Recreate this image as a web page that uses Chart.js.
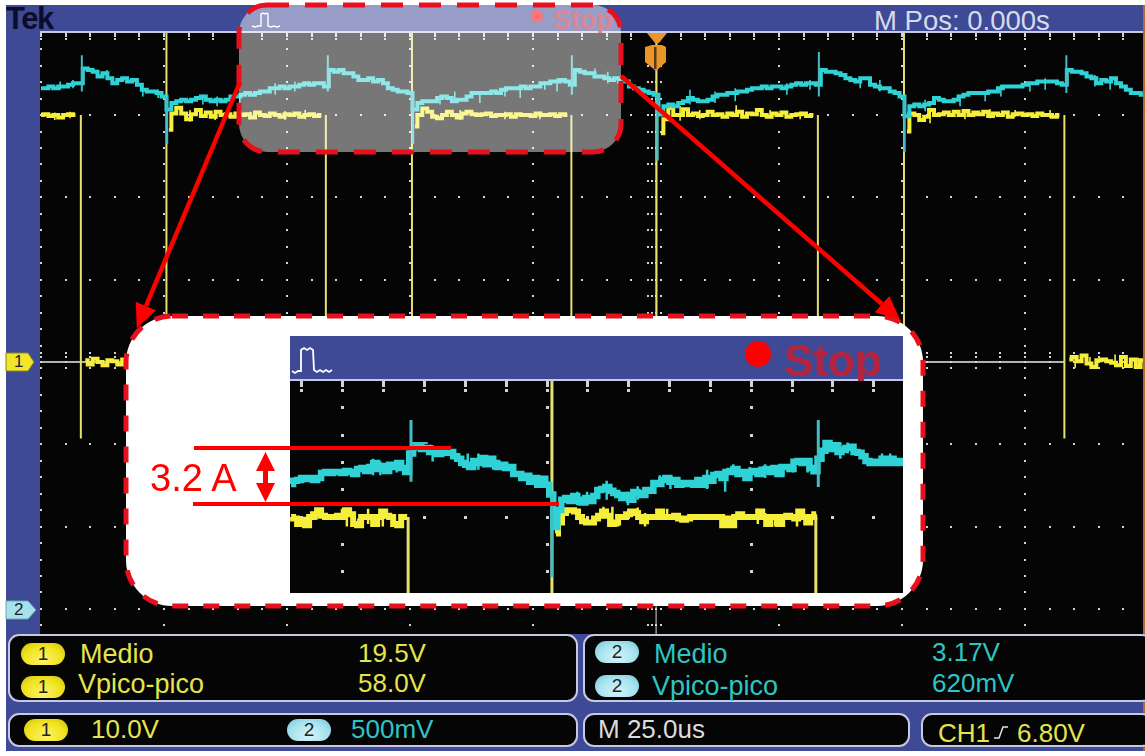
<!DOCTYPE html>
<html>
<head>
<meta charset="utf-8">
<title>Tek</title>
<script src="https://cdn.jsdelivr.net/npm/chart.js@4"></script>
<style>
html, body { margin: 0; padding: 0; background: #fff; overflow: hidden; }
#page { position: relative; width: 1145px; height: 756px; overflow: hidden; font-family: "Liberation Sans", Arial, sans-serif; }
#page > * { position: absolute; }
.band { background: #3f4a96; }
.panel { background: #050505; border: 2px solid #c6c9e2; border-radius: 11px; box-sizing: border-box; }
.t { white-space: nowrap; line-height: 1; }
.y { color: #e4e44e; font-size: 27px; }
.c { color: #2fc4c4; font-size: 27px; }
.pill { width: 44px; height: 22px; border-radius: 11px; text-align: center; font-size: 19px; line-height: 22px; color: #222; }
.py { background: radial-gradient(ellipse at 50% 75%, #fff36a, #efe21c 60%, #c9bb10); }
.pc { background: radial-gradient(ellipse at 50% 75%, #d5f4fa, #a6e2ee 60%, #6fc3d6); }
canvas { display: block; }
</style>
</head>
<body>
<div id="page">
  <div class="band" style="left:6px;top:5px;width:1139px;height:746px"></div>
  <div style="left:1143px;top:5px;width:2px;height:746px;background:#b06a30"></div>
  <div class="t" style="left:6px;top:3px;font-size:31px;font-weight:bold;color:#0c0c2c;letter-spacing:-1.5px">Tek</div>
  <div style="left:40px;top:31px;width:1103px;height:2px;background:#c6c9e2"></div>
  <svg style="left:0;top:0" width="300" height="32"><polyline points="252,26 255,27 258,26 261,26 261,14 263,13 265,14 267,13 268,14 268,26 271,27 274,26 277,27 280,26" fill="none" stroke="#fff" stroke-width="1.4"/></svg>
  <div style="left:531px;top:10px;width:12px;height:12px;border-radius:6px;background:#f00"></div>
  <div class="t" style="left:553px;top:7px;font-size:27px;font-weight:bold;color:#b5243f">Stop</div>
  <div class="t" style="left:874px;top:7px;font-size:27.5px;color:#d8d9ea">M Pos: 0.000s</div>

  <canvas id="mainChart" width="1103" height="601" style="left:40px;top:33px"></canvas>

  <svg style="left:0;top:30px" width="700" height="50">
    <polygon points="647,3 667,3 659,13 655,13" fill="#e8952a"/>
    <polygon points="645,17 652,15 662,15 666,17 666,32 656,41 645,32" fill="#e8952a"/>
    <rect x="654" y="17" width="2.5" height="22" fill="#5a3a10"/>
  </svg>

  <svg style="left:0;top:340px" width="40" height="290">
    <polygon points="6,13 28,13 34,22 28,31 6,31" fill="#f2e62a" stroke="#8a8420" stroke-width="1"/>
    <polygon points="6,261 28,261 36,270 28,279 6,279" fill="#a6e2ee" stroke="#6aa" stroke-width="1"/>
  </svg>
  <div class="t" style="left:14px;top:353px;font-size:17px;color:#222">1</div>
  <div class="t" style="left:14px;top:601px;font-size:17px;color:#222">2</div>

  <div class="panel" style="left:8px;top:634px;width:570px;height:68px"></div>
  <div class="panel" style="left:583px;top:634px;width:570px;height:68px"></div>
  <div class="panel" style="left:8px;top:713px;width:570px;height:34px"></div>
  <div class="panel" style="left:583px;top:713px;width:327px;height:34px"></div>
  <div class="panel" style="left:921px;top:713px;width:232px;height:34px"></div>

  <div class="pill py" style="left:21px;top:643px">1</div>
  <div class="t y" style="left:80px;top:641px">Medio</div>
  <div class="t y" style="left:358px;top:640px;font-size:26px">19.5V</div>
  <div class="pill py" style="left:21px;top:676px">1</div>
  <div class="t y" style="left:78px;top:671px">Vpico-pico</div>
  <div class="t y" style="left:358px;top:670px;font-size:26px">58.0V</div>
  <div class="pill pc" style="left:595px;top:641px">2</div>
  <div class="t c" style="left:654px;top:641px">Medio</div>
  <div class="t c" style="left:932px;top:639px;font-size:26px">3.17V</div>
  <div class="pill pc" style="left:595px;top:675px">2</div>
  <div class="t c" style="left:652px;top:673px">Vpico-pico</div>
  <div class="t c" style="left:932px;top:670px;font-size:26px">620mV</div>
  <div class="pill py" style="left:24px;top:719px">1</div>
  <div class="t y" style="left:91px;top:716px;font-size:26px">10.0V</div>
  <div class="pill pc" style="left:287px;top:719px">2</div>
  <div class="t c" style="left:351px;top:716px;font-size:26px">500mV</div>
  <div class="t" style="left:598px;top:716px;font-size:26px;color:#dcdcdc">M 25.0us</div>
  <div class="t y" style="left:938px;top:720px;font-size:26px">CH1</div>
  <svg style="left:992px;top:724px" width="20" height="18"><polyline points="2,14 7,14 11,3 16,3" fill="none" stroke="#e4e4e4" stroke-width="1.5"/></svg>
  <div class="t y" style="left:1017px;top:720px;font-size:26px">6.80V</div>

  <svg style="left:0;top:0" width="1145" height="756">
    <defs>
      <marker id="head" markerUnits="userSpaceOnUse" markerWidth="26" markerHeight="24" refX="0" refY="12" orient="auto">
        <polygon points="0,1 24,12 0,23" fill="#f00"/>
      </marker>
    </defs>
    <rect x="239" y="5" width="382" height="147" rx="28" fill="rgba(255,255,255,0.46)" stroke="#e8101c" stroke-width="5" stroke-dasharray="22 16"/>
    <rect x="126" y="316" width="797" height="290" rx="46" fill="#fff" stroke="#e8101c" stroke-width="5" stroke-dasharray="16 15"/>
    <line x1="240" y1="82" x2="146" y2="306" stroke="#f00" stroke-width="4.5" marker-end="url(#head)"/>
    <line x1="621" y1="76" x2="882" y2="304" stroke="#f00" stroke-width="4.5" marker-end="url(#head)"/>
  </svg>

  <div class="band" style="left:290px;top:336px;width:613px;height:44px"></div>
  <div style="left:290px;top:379px;width:613px;height:2px;background:#c6c9e2"></div>
  <svg style="left:290px;top:336px" width="60" height="44"><polyline points="2,35 5,37 8,35 11,35 11,14 14,12 17,14 20,12 23,14 24,34 27,36 30,34 33,36 36,34 39,36 42,34" fill="none" stroke="#fff" stroke-width="1.8"/></svg>
  <div style="left:745px;top:341px;width:26px;height:26px;border-radius:13px;background:#f00"></div>
  <div class="t" style="left:784px;top:339px;font-size:44px;font-weight:bold;color:#b5243f">Stop</div>
  <canvas id="insetChart" width="613" height="212" style="left:290px;top:381px"></canvas>

  <svg style="left:0;top:0" width="1145" height="756">
    <rect x="194" y="446" width="257" height="4" fill="#f00"/>
    <rect x="193" y="502" width="366" height="4" fill="#f00"/>
    <polygon points="265.5,452 275,471 268,471 268,483 275,483 265.5,502 256,483 263,483 263,471 256,471" fill="#f00"/>
  </svg>
  <div class="t" style="left:150px;top:459px;font-size:38px;color:#f00">3.2 A</div>
</div>

<script>
// time in us, CH1 in V (10 V/div), CH2 in V (500 mV/div)
const mainStart = -125;
const mainStep = 1;
const ch2Main = [
  3.17,3.17,3.18,3.17,3.18,3.18,3.19,3.20,3.20,
  3.29,3.28,3.27,3.24,3.26,3.23,3.20,3.22,3.23,3.21,3.22,3.19,3.16,3.15,3.15,3.14,3.12,
  3.04,3.08,3.09,3.10,3.09,3.10,3.11,3.12,3.10,3.09,3.10,3.09,3.10,3.12,3.12,3.13,3.14,3.13,3.14,3.15,3.15,3.17,3.17,3.18,3.17,3.18,3.18,3.19,3.20,3.19,3.20,3.20,3.18,
  3.28,3.27,3.28,3.26,3.26,3.24,3.22,3.22,3.23,3.21,3.22,3.20,3.17,3.16,3.15,3.15,3.14,
  3.04,3.08,3.09,3.09,3.09,3.11,3.12,3.11,3.09,3.10,3.10,3.12,3.14,3.14,3.14,3.14,3.15,3.14,3.16,3.17,3.17,3.17,3.18,3.17,3.18,3.18,3.20,3.20,3.21,3.21,3.22,3.21,3.19,
  3.28,3.27,3.26,3.26,3.24,3.24,3.23,3.22,3.23,3.21,3.21,3.18,3.17,3.16,3.15,3.14,3.13,
  3.01,3.06,3.07,3.06,3.08,3.09,3.11,3.10,3.09,3.09,3.10,3.12,3.13,3.13,3.14,3.14,3.15,3.15,3.16,3.17,3.17,3.18,3.17,3.18,3.18,3.17,3.18,3.19,3.20,3.19,3.20,3.20,3.19,
  3.28,3.27,3.27,3.26,3.25,3.23,3.22,3.21,3.23,3.23,3.19,3.18,3.17,3.17,3.15,3.14,3.12,
  3.00,3.06,3.07,3.06,3.07,3.08,3.11,3.10,3.09,3.09,3.10,3.12,3.13,3.14,3.14,3.14,3.14,3.15,3.15,3.17,3.18,3.18,3.18,3.18,3.19,3.20,3.20,3.21,3.21,3.21,3.21,3.20,3.19,
  3.28,3.27,3.27,3.26,3.24,3.23,3.20,3.22,3.21,3.23,3.20,3.18,3.16,3.14,3.14,3.13
];
const ch1Main = [
  30.0,30.1,29.9,30.0,29.7,30.0,30.1,30.0,null,
  0.2,-0.3,0.4,0,-0.4,0.2,0.1,-0.3,0.3,0,0.1,-0.2,0.2,0,-0.1,0.2,null,
  28.2,30.2,30.9,30.2,29.5,30.1,30.6,29.9,30.3,29.8,30.4,30.0,30.1,29.8,30.2,30.0,30.1,29.7,30.3,30.0,29.9,30.2,30.0,29.8,30.1,30.0,30.2,29.8,30.0,30.1,29.9,30.0,null,
  0.1,-0.2,0.3,0,0.2,-0.3,0.1,0,0.3,-0.2,0,0.2,-0.1,0.1,0.3,-0.2,null,
  28.6,30.0,30.8,30.4,29.8,29.6,30.0,30.4,30.0,29.7,30.2,30.4,30.1,30.0,30.1,30.2,29.9,30.0,30.0,30.1,29.8,30.1,30.0,30.0,29.9,30.2,30.0,30.0,30.1,29.9,30.1,30.0,null,
  0.2,0,-0.2,0.3,0.1,-0.3,0,0.2,0.1,-0.1,0.3,0,-0.2,0.2,0,0.1,null,
  27.8,29.5,30.9,30.0,30.0,30.7,30.0,30.2,29.9,30.0,30.4,30.0,30.1,29.8,30.2,30.0,30.4,29.8,30.2,30.1,30.6,30.0,29.8,30.2,30.0,30.3,29.8,30.0,30.1,30.2,29.9,30.0,null,
  -0.1,0.2,0,0.3,-0.2,0.1,0,0.2,-0.3,0.1,0.2,0,-0.1,0.3,0,-0.2,null,
  28.0,30.2,30.0,29.4,29.8,30.6,30.0,30.1,30.3,30.0,30.4,30.0,30.5,30.0,30.3,30.1,30.4,29.9,30.2,30.0,30.3,29.8,30.1,30.2,30.0,30.1,29.9,30.2,30.0,30.0,29.8,30.0,null,
  0.3,0.6,0.1,0.8,-0.2,-0.6,0.2,0.3,0.1,-0.1,-0.4,0.6,-0.5,0.3,-0.6,0.2
];
// edges and spikes: thin vertical strokes of each trace
const ch1FallTimes = [-116.9,-67.1,-17.2,32.9,83];
const ch1FallHigh = [30,30,30,30,30];
const ch1FallLow = [-9.3,-9.3,-9.3,-9.3,-9.3];
const ch1RiseTimes = [-99.5,-49.6,0.1,50.4];
const ch1RiseHigh = [45,45,45,45];
const ch1RiseLow = [0,0,0,0];
const ch2SpikeTimes = [-116.7,-66.7,-17.1,33.1,83.4];
const ch2SpikeHigh = [3.37,3.37,3.37,3.39,3.37];
const ch2SpikeLow = [3.15,3.15,3.13,3.12,3.14];
const ch2DropTimes = [-99.4,-49.4,0.3,50.5];
const ch2DropHigh = [3.12,3.14,3.13,3.12];
const ch2DropLow = [2.83,2.83,2.73,2.78];
// short noise jags on top of the traces
const ch2JagTimes = [-121.1,-118.5,-111.6,-104.3,-101.2,-92.1,-89.2,-84.6,-77.4,-73.4,-43.9,-40.9,-35.8,-30.7,-27.6,-22.6,-20.1,-12.4,-9.8,6.9,12,16.1,26.6,31.3,41.5,45.5,54.7,61.8,66.9,70.1,76,79.1,89.2,92.3];
const ch2JagHigh = [3.21,3.22,3.28,3.17,3.16,3.13,3.12,3.12,3.20,3.21,3.13,3.15,3.13,3.18,3.17,3.21,3.23,3.29,3.27,3.16,3.15,3.17,3.20,3.22,3.23,3.22,3.10,3.13,3.15,3.19,3.21,3.23,3.25,3.24];
const ch2JagLow = [3.16,3.17,3.22,3.12,3.11,3.07,3.06,3.07,3.13,3.15,3.07,3.08,3.08,3.12,3.11,3.16,3.15,3.23,3.20,3.07,3.08,3.09,3.13,3.16,3.17,3.15,3.03,3.06,3.09,3.12,3.15,3.16,3.18,3.16];
const ch1JagTimes = [-122.2,-119.1,-94.7,-89.6,-82.5,-75.4,-71.3,-39.8,-30.7,-23.6,4.9,8.9,16.3,23.2,29.3,55.7,62.8,67.9,73,80.1,85.2,88.2,93.3,98];
const ch1JagHigh = [30.3,30.4,30.6,30.6,30.4,30.5,30.6,30.6,30.4,30.4,31.1,30.6,31.2,30.6,30.4,30.9,30.6,30.7,30.6,30.6,0.6,0.6,0.9,0.5];
const ch1JagLow = [29.4,29.6,29.2,29.4,29.5,29.4,29.5,29.4,29.5,29.5,29.3,29.5,29.8,29.6,29.5,29.0,29.5,29.6,29.8,29.6,-0.7,-0.5,-0.5,-0.7];

// the magnified crop
const insetStart = -81.33;
const insetStep = 0.49;
const ch2Inset = [
  3.128,3.140,3.143,3.150,3.146,3.150,3.143,3.150,3.168,3.172,3.168,3.172,3.172,3.168,3.176,3.172,3.165,3.183,3.187,3.176,3.190,3.205,3.183,3.194,3.176,3.198,3.190,3.205,3.187,3.172,
  3.240,
  3.262,3.270,3.256,3.260,3.245,3.250,3.238,3.249,3.242,3.245,3.230,3.220,3.205,3.198,3.190,3.212,3.205,3.223,3.200,3.220,3.205,3.190,3.198,3.187,3.190,3.165,3.165,3.150,3.158,3.136,3.150,3.125,3.147,3.125,3.090,
  2.971,3.033,3.070,3.077,3.066,3.084,3.070,3.060,3.077,3.066,3.084,3.106,3.110,3.117,3.103,3.095,3.088,3.077,3.088,3.070,3.099,3.095,3.088,3.106,3.103,3.132,3.128,3.143,3.150,3.136,3.143,3.125,3.132,3.128,3.132,3.125,3.143,3.125,3.150,3.140,3.161,3.165,3.150,3.172,3.176,3.183,3.165,3.172,3.150,3.172,3.176,3.165,3.180,3.183,3.172,3.187,3.165,3.190,3.190,3.183,3.209,3.212,3.205,3.212,3.187,3.175,
  3.220,
  3.250,3.278,3.256,3.270,3.245,3.253,3.260,3.264,3.245,3.242,3.230,3.212,3.205,3.209,3.205,3.220,3.205,3.220,3.205,3.212,3.205
];
const ch1InsetLeft = [
  30.0,29.9,29.5,29.8,29.4,30.0,30.2,30.5,30.1,30.0,
  30.0,30.0,30.1,30.0,30.5,30.2,29.5,29.4,30.0,30.0,
  30.0,29.5,30.0,30.4,30.1,30.0,29.5,29.4,30.0,30.0
];
const insetRightStart = -48.9;
const ch1InsetRight = [
  28.8,29.6,30.3,30.5,30.5,30.4,30.0,29.7,29.6,29.6,29.9,30.1,30.4,30.1,29.5,29.6,30.0,30.0,30.2,30.4,
  30.3,30.0,29.7,30.0,30.0,30.0,30.4,30.0,30.0,30.0,30.1,29.9,29.8,29.9,30.0,30.0,30.0,30.0,30.0,30.0,
  30.0,30.0,29.4,29.9,29.4,30.0,30.2,30.0,30.0,30.0,30.0,30.4,30.0,29.5,30.0,30.0,29.5,30.0,30.1,30.0,
  29.9,30.4,30.0,29.6,30.0,30.2
];
const ch1InsetEdgeTimes = [-67.0,-49.4,-17.1];
const ch1InsetEdgeHigh = [30,45,30];
const ch1InsetEdgeLow = [20,20,20];
const ch2InsetEdgeTimes = [-66.65,-49.4,-16.8];
const ch2InsetEdgeHigh = [3.362,3.09,3.362];
const ch2InsetEdgeLow = [3.136,2.788,3.117];
const ch2ShelfTimes = [-66.65,-64.6];
const ch2ShelfVolts = [3.278,3.278];
const ch2InsetJagTimes = [-71.3,-70.4,-68.4,-64.0,-59.7,-58.4,-56.6,-46.3,-45.1,-42.7,-40.1,-38.9,-36.2,-34.9,-30.4,-28.2,-27.2,-25.2,-23.3,-21.1,-19.9,-18.1,-14.1,-13.2,-9.0,-8.0];
const ch2InsetJagHigh = [3.22,3.21,3.21,3.27,3.24,3.24,3.23,3.10,3.10,3.14,3.10,3.12,3.16,3.16,3.18,3.16,3.20,3.19,3.20,3.19,3.20,3.19,3.28,3.28,3.24,3.24];
const ch2InsetJagLow = [3.16,3.16,3.17,3.21,3.18,3.18,3.18,3.05,3.05,3.07,3.05,3.07,3.12,3.11,3.11,3.10,3.16,3.14,3.15,3.16,3.17,3.17,3.22,3.24,3.20,3.20];
const ch1InsetJagTimes = [-80.6,-79.6,-78.2,-75.1,-74.5,-73.1,-71.9,-70.1,-43.1,-42,-41.3,-38.9,-38,-35.3,-28.5,-27.2,-24.2,-23.3,-22.1,-19.4];
const ch1InsetJagHigh = [29.9,29.9,30.6,30.6,29.9,29.9,30.6,29.9,30.75,30.75,29.9,30.7,30.3,30.6,29.9,29.9,30.6,30.3,29.9,29.9];
const ch1InsetJagLow = [29.3,29.3,29.8,29.9,29.3,29.3,29.5,29.3,29.9,29.3,29.3,29.8,29.3,29.8,29.3,29.3,29.5,29.3,29.3,29.3];

const cyan = "#2fd3d6";
const cyanEdge = "#45bcc4";
const yellow = "#f5ee3a";
const yellowEdge = "#e6e070";

function samples(start, step, values) {
    return values.map(function (v, i) { return { x: start + i * step, y: v }; });
}

function edges(times, high, low) {
    var out = [];
    times.forEach(function (t, i) {
        out.push({ x: t, y: high[i] }, { x: t, y: low[i] }, { x: t, y: null });
    });
    return out;
}

function band(data, color, axis, width) {
    return { data: data, yAxisID: axis, borderColor: color, borderWidth: width, stepped: "middle", pointRadius: 0, fill: false };
}

function edge(data, color, axis, width) {
    return { data: data, yAxisID: axis, borderColor: color, borderWidth: width, pointRadius: 0, fill: false };
}

// black screen and the dotted graticule, placed through the scales
function graticule(dot, tick, isMain) {
    return {
        id: "graticule",
        beforeDatasetsDraw: function (chart) {
            var ctx = chart.ctx, sx = chart.scales.x, sy = chart.scales.ch1, area = chart.chartArea;
            var t, v, i;
            ctx.save();
            ctx.fillStyle = "#050505";
            ctx.fillRect(area.left, area.top, area.width, area.height);
            if (isMain) {
                ctx.fillStyle = "#b4b4b4";
                ctx.fillRect(area.left, sy.getPixelForValue(0) - 1, sx.getPixelForValue(83) - area.left, 2);
                ctx.fillRect(sx.getPixelForValue(0) - 0.5, area.top, 1.2, area.height);
            }
            ctx.fillStyle = "#d4d4d4";
            function mark(x, y) { ctx.fillRect(Math.round(x - dot / 2), Math.round(y - dot / 2), dot, dot); }
            var rows = [39.3, 30, 20, 10, 0, -10, -20, -30];
            for (t = -125; t <= 100; t += 5) {
                var px = sx.getPixelForValue(t);
                ctx.fillRect(Math.round(px - dot / 2), area.top, dot, tick);
                rows.forEach(function (r) { mark(px, sy.getPixelForValue(r)); });
                if (isMain) {
                    [1.1, 0.6, -0.7].forEach(function (r) { mark(px, sy.getPixelForValue(r)); });
                }
            }
            for (t = -125; t <= 100; t += 25) {
                for (v = -32; v <= 38; v += 2) {
                    mark(sx.getPixelForValue(t), sy.getPixelForValue(v));
                    if (isMain && t === 0) {
                        var off = [-1.6, -0.8, 1.1];
                        for (i = 0; i < off.length; i++) mark(sx.getPixelForValue(off[i]), sy.getPixelForValue(v));
                    }
                }
            }
            ctx.restore();
        }
    };
}

function scope(id, datasets, xRange, ch1Range, ch2Range, plugin) {
    return new Chart(document.getElementById(id), {
        type: "line",
        data: { datasets: datasets },
        options: {
            responsive: false,
            animation: false,
            parsing: true,
            spanGaps: false,
            layout: { padding: 0 },
            plugins: { legend: { display: false }, tooltip: { enabled: false } },
            scales: {
                x: { type: "linear", display: false, min: xRange[0], max: xRange[1] },
                ch1: { type: "linear", display: false, min: ch1Range[0], max: ch1Range[1] },
                ch2: { type: "linear", display: false, min: ch2Range[0], max: ch2Range[1] }
            }
        },
        plugins: [plugin]
    });
}

scope("mainChart", [
    edge(edges(ch2SpikeTimes, ch2SpikeHigh, ch2SpikeLow), cyanEdge, "ch2", 2),
    edge(edges(ch2DropTimes, ch2DropHigh, ch2DropLow), cyanEdge, "ch2", 2.5),
    edge(edges(ch2JagTimes, ch2JagHigh, ch2JagLow), cyan, "ch2", 1.6),
    band(samples(mainStart, mainStep, ch2Main), cyan, "ch2", 4),
    edge(edges(ch1JagTimes, ch1JagHigh, ch1JagLow), yellow, "ch1", 1.6),
    band(samples(mainStart, mainStep, ch1Main), yellow, "ch1", 4),
    edge(edges(ch1FallTimes, ch1FallHigh, ch1FallLow), yellowEdge, "ch1", 2),
    edge(edges(ch1RiseTimes, ch1RiseHigh, ch1RiseLow), yellowEdge, "ch1", 2)
], [-125.2, 98.98], [-33.05, 39.97], [-0.146, 3.505], graticule(2, 4, true));

scope("insetChart", [
    edge(edges(ch2InsetEdgeTimes, ch2InsetEdgeHigh, ch2InsetEdgeLow), cyanEdge, "ch2", 3),
    edge(edges(ch2InsetJagTimes, ch2InsetJagHigh, ch2InsetJagLow), cyan, "ch2", 2.5),
    edge(ch2ShelfTimes.map(function (t, i) { return { x: t, y: ch2ShelfVolts[i] }; }), cyanEdge, "ch2", 2),
    band(samples(insetStart, insetStep, ch2Inset), cyan, "ch2", 6.5),
    edge(edges(ch1InsetJagTimes, ch1InsetJagHigh, ch1InsetJagLow), yellow, "ch1", 2.5),
    band(samples(insetStart, insetStep, ch1InsetLeft), yellow, "ch1", 6),
    band(samples(insetRightStart, insetStep, ch1InsetRight), yellow, "ch1", 6),
    edge(edges(ch1InsetEdgeTimes, ch1InsetEdgeHigh, ch1InsetEdgeLow), yellowEdge, "ch1", 3)
], [-81.46, -6.43], [24.44, 39.96], [2.729, 3.505], graticule(3, 6, false));
</script>
</body>
</html>
